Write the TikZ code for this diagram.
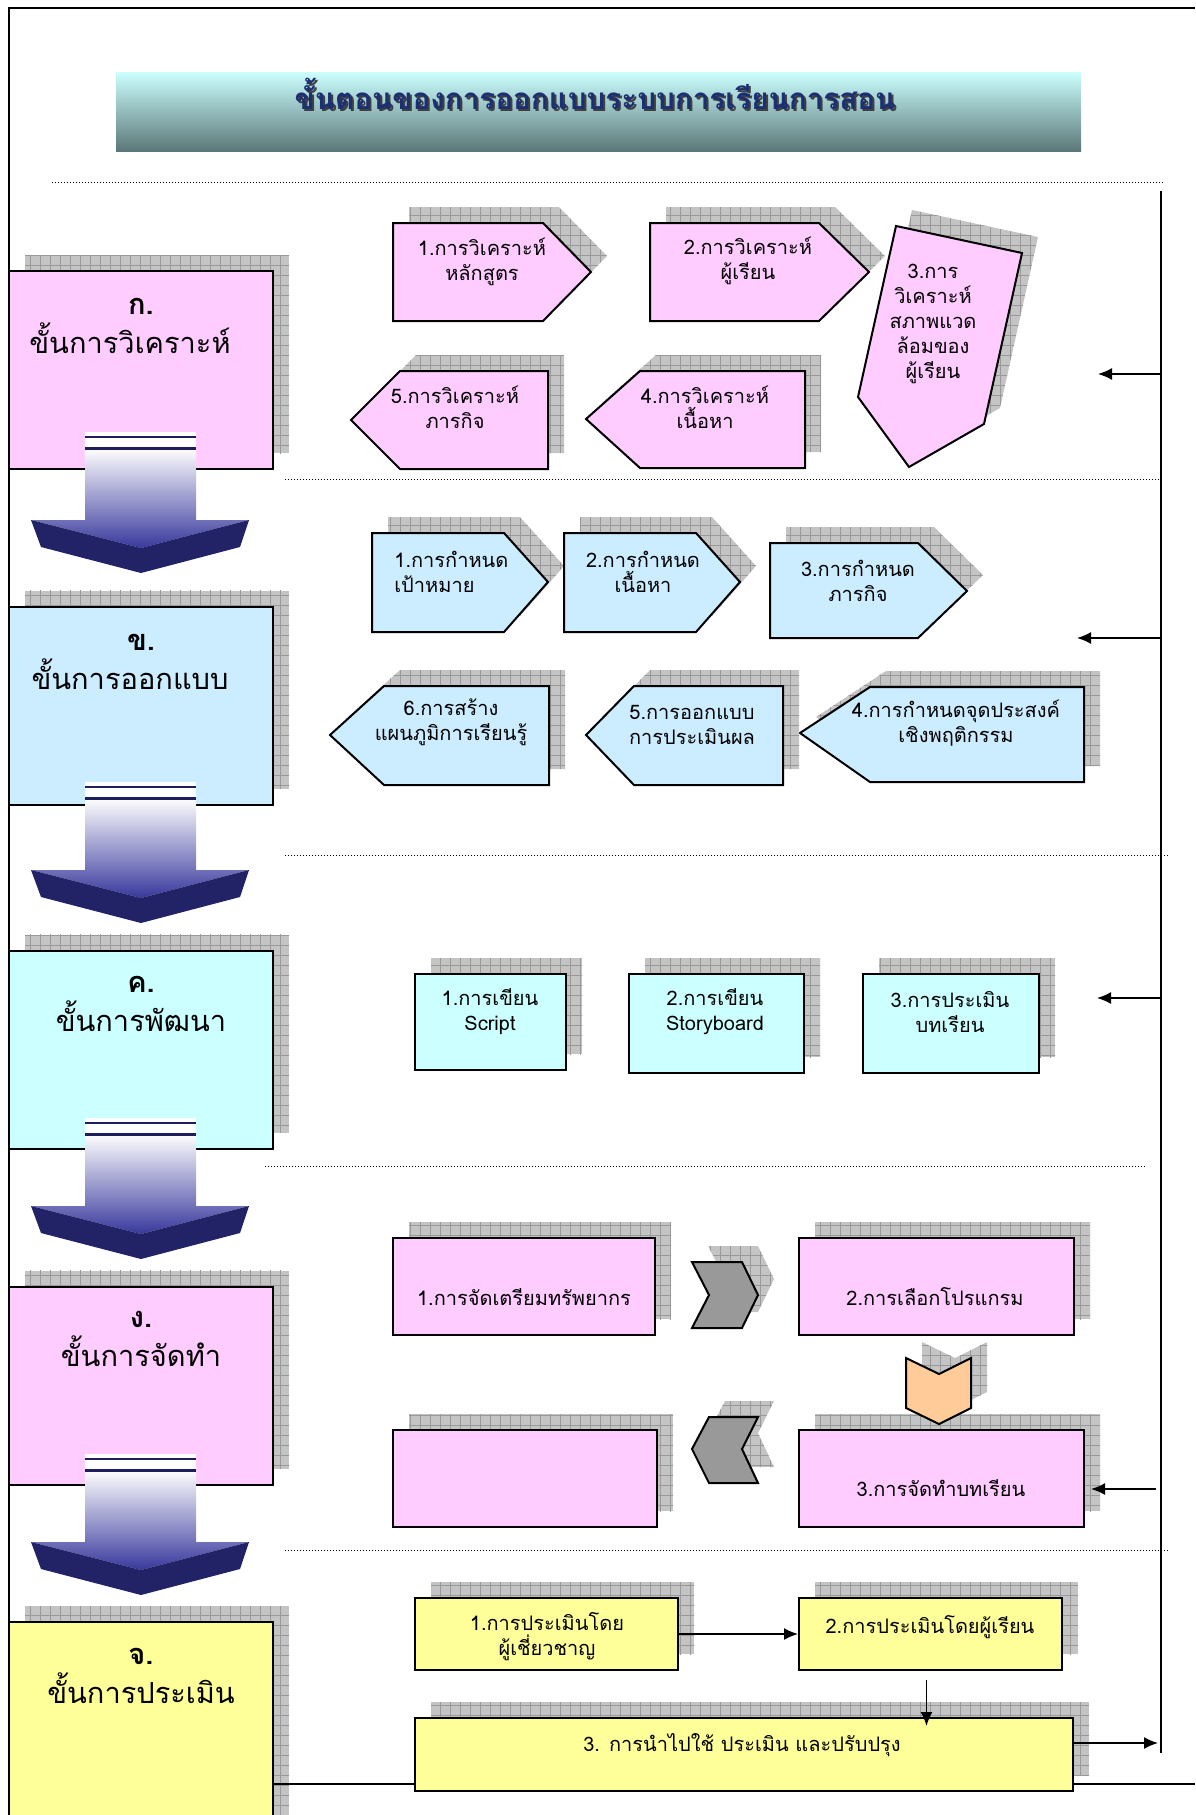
\documentclass[tikz,border=0pt]{standalone}
\usepackage{fontspec}
\setmainfont[Script=Thai]{Loma}
\usepackage{tikz}
\usetikzlibrary{arrows.meta, patterns.meta}

\definecolor{pinkfill}{HTML}{FFCCFF}
\definecolor{bluefill}{HTML}{CCECFF}
\definecolor{cyanfill}{HTML}{CCFFFF}
\definecolor{yellowfill}{HTML}{FFFF99}
\definecolor{peachfill}{HTML}{FFCC99}
\definecolor{chevgray}{HTML}{999999}
\definecolor{shadowgray}{HTML}{C4C4C4}
\definecolor{gridgray}{HTML}{999999}
\definecolor{bannerdark}{HTML}{5B7777}
\definecolor{titleblue}{HTML}{1C2F72}
\definecolor{shaftblue}{HTML}{38389C}
\definecolor{headnavy}{HTML}{222266}
\definecolor{stripenavy}{HTML}{1E1E5C}

\tikzset{
  shadowed/.style={
    preaction={fill=shadowgray, transform canvas={xshift=8pt, yshift=8pt}},
    preaction={pattern color=gridgray, pattern={Hatch[angle=0, distance=5pt, line width=0.35pt]},
      transform canvas={xshift=8pt, yshift=8pt}}},
  stepshape/.style={draw, line width=1pt, shadowed},
  stepbox/.style={stepshape, rectangle, inner sep=0pt},
  stagebox/.style={stepbox, minimum width=132pt, minimum height=99pt},
  txt/.style={align=center, inner sep=0pt, font=\fontsize{10}{12.5}\selectfont},
  stagetxt/.style={align=center, inner sep=0pt, font=\fontsize{14.5}{19.5}\selectfont},
  titletxt/.style={inner sep=0pt, font=\fontsize{14.8}{18}\selectfont\bfseries},
  dotline/.style={densely dotted, line width=0.5pt},
  frameline/.style={line width=1pt},
  linkarrow/.style={line width=0.8pt, -{Latex[length=7pt, width=6pt]}},
  downarrow/.pic={
    \fill[white] (-56,-88) rectangle (55,-72);
    \shade[top color=white, bottom color=shaftblue]
      (-56,-72) -- (55,-72) -- (55,0) -- (108,0) -- (0,28) -- (-110,0) -- (-56,0) -- cycle;
    \fill[headnavy] (-110,0) -- (0,28) -- (0,53) -- (-100,27) -- cycle;
    \fill[headnavy] (108,0) -- (0,28) -- (0,53) -- (99,27) -- cycle;
    \draw[stripenavy, line width=1pt] (-56,-83) -- (55,-83);
    \draw[stripenavy, line width=1.5pt] (-56,-72) -- (55,-72);
  }
}

\begin{document}
\begin{tikzpicture}[x=0.5pt, y=-0.5pt]
  \useasboundingbox (0,0) rectangle (1195,1815);

  % Frame
  \draw[frameline] (1195,8) -- (9,8) -- (9,1785);
  \draw[frameline] (1161,191) -- (1161,1753);

  % Title banner
  \shade[top color=cyanfill, bottom color=bannerdark] (116,72) rectangle (1081,151);
  \node[titletxt, text=black!75] (titleshadow) at (597,96) {ขั้นตอนของการออกแบบระบบการเรียนการสอน};
  \node[titletxt, text=titleblue] (title) at (595,94) {ขั้นตอนของการออกแบบระบบการเรียนการสอน};

  % Separators
  \draw[dotline] (52,182) -- (1164,182);
  \draw[dotline] (285,479) -- (1161,479);
  \draw[dotline] (285,855) -- (1168,855);
  \draw[dotline] (265,1166) -- (1147,1166);
  \draw[dotline] (285,1550) -- (1168,1550);

  % Stage boxes
  \node[stagebox, fill=pinkfill] (stageA) at (141,370) {};
  \node[stagebox, fill=bluefill] (stageB) at (141,705.5) {};
  \node[stagebox, fill=cyanfill] (stageC) at (141,1049.5) {};
  \node[stagebox, fill=pinkfill] (stageD) at (141,1385.5) {};
  \node[stagebox, fill=yellowfill, minimum height=120pt] (stageE) at (141,1742) {};

  \node[stagetxt] (stageA-t) at (141,326) {\textbf{ก.}\\ขั้นการวิเคราะห์\hspace*{11pt}};
  \node[stagetxt] (stageB-t) at (141,662) {\textbf{ข.}\\ขั้นการออกแบบ\hspace*{11pt}};
  \node[stagetxt] (stageC-t) at (141,1004) {\textbf{ค.}\\ขั้นการพัฒนา};
  \node[stagetxt] (stageD-t) at (141,1339) {\textbf{ง.}\\ขั้นการจัดทำ};
  \node[stagetxt] (stageE-t) at (141,1676) {\textbf{จ.}\\ขั้นการประเมิน};

  % Arrows between stages
  \pic at (141,520) {downarrow};
  \pic at (141,870) {downarrow};
  \pic at (141,1206) {downarrow};
  \pic at (141,1542) {downarrow};

  % Analysis steps
  \draw[stepshape, fill=pinkfill] (393,223) -- (543,223) -- (591,272) -- (543,321) -- (393,321) -- cycle;
  \node[txt] (anaA) at (482,262) {1.การวิเคราะห์\\หลักสูตร};
  \draw[stepshape, fill=pinkfill] (650,223) -- (819,223) -- (869,272) -- (819,321) -- (650,321) -- cycle;
  \node[txt] (anaB) at (748,261) {2.การวิเคราะห์\\ผู้เรียน};
  \draw[stepshape, fill=pinkfill] (896,226) -- (1022,253) -- (984,424) -- (909,467) -- (858,397) -- cycle;
  \node[txt] (anaC) at (933,324) {3.การ\\วิเคราะห์\\สภาพแวด\\ล้อมของ\\ผู้เรียน};
  \draw[stepshape, fill=pinkfill] (586,419) -- (640,371) -- (805,371) -- (805,468) -- (640,468) -- cycle;
  \node[txt] (anaD) at (705,407) {4.การวิเคราะห์\\เนื้อหา};
  \draw[stepshape, fill=pinkfill] (351,420) -- (400,371) -- (548,371) -- (548,469) -- (400,469) -- cycle;
  \node[txt] (anaE) at (455,407) {5.การวิเคราะห์\\ภารกิจ};

  % Design steps
  \draw[stepshape, fill=bluefill] (372,533) -- (504,533) -- (548,582) -- (504,632) -- (372,632) -- cycle;
  \node[txt, align=left, anchor=west] (desA) at (394,572) {1.การกำหนด\\เป้าหมาย};
  \draw[stepshape, fill=bluefill] (564,533) -- (696,533) -- (740,582) -- (696,632) -- (564,632) -- cycle;
  \node[txt] (desB) at (643,572) {2.การกำหนด\\เนื้อหา};
  \draw[stepshape, fill=bluefill] (770,543) -- (918,543) -- (967,591) -- (918,638) -- (770,638) -- cycle;
  \node[txt] (desC) at (858,581) {3.การกำหนด\\ภารกิจ};
  \draw[stepshape, fill=bluefill] (800,733) -- (870,687) -- (1084,687) -- (1084,782) -- (870,782) -- cycle;
  \node[txt] (desD) at (956,723) {4.การกำหนดจุดประสงค์\\เชิงพฤติกรรม};
  \draw[stepshape, fill=bluefill] (586,735) -- (634,686) -- (783,686) -- (783,785) -- (634,785) -- cycle;
  \node[txt] (desE) at (692,725) {5.การออกแบบ\\การประเมินผล};
  \draw[stepshape, fill=bluefill] (330,735) -- (384,686) -- (549,686) -- (549,785) -- (384,785) -- cycle;
  \node[txt] (desF) at (451,722) {6.การสร้าง\\แผนภูมิการเรียนรู้};

  % Development steps
  \node[stepbox, fill=cyanfill, minimum width=75.5pt, minimum height=48pt] (devA) at (490.5,1022) {};
  \node[txt] (devA-t) at (490,1012) {1.การเขียน\\Script};
  \node[stepbox, fill=cyanfill, minimum width=87.5pt, minimum height=49.5pt] (devB) at (716.5,1023.5) {};
  \node[txt] (devB-t) at (715,1012) {2.การเขียน\\Storyboard};
  \node[stepbox, fill=cyanfill, minimum width=88pt, minimum height=49.5pt] (devC) at (951,1023.5) {};
  \node[txt] (devC-t) at (950,1012) {3.การประเมิน\\บทเรียน};

  % Production steps
  \node[stepbox, fill=pinkfill, minimum width=131pt, minimum height=48.5pt] (proA) at (524,1286.5) {};
  \node[txt] (proA-t) at (524,1297) {1.การจัดเตรียมทรัพยากร};
  \draw[stepshape, fill=chevgray] (692,1262) -- (742,1262) -- (758,1295) -- (742,1328) -- (692,1328) -- (709,1295) -- cycle;
  \node[stepbox, fill=pinkfill, minimum width=137.5pt, minimum height=48.5pt] (proB) at (936.5,1286.5) {};
  \node[txt] (proB-t) at (935,1297) {2.การเลือกโปรแกรม};
  \node[stepbox, fill=pinkfill, minimum width=142.5pt, minimum height=48.5pt] (proC) at (941.5,1478.5) {};
  \node[txt] (proC-t) at (941,1488) {3.การจัดทำบทเรียน};
  \draw[stepshape, fill=peachfill] (906,1358) -- (939,1374) -- (971,1358) -- (971,1408) -- (939,1424) -- (906,1408) -- cycle;
  \draw[stepshape, fill=chevgray] (758,1417) -- (709,1417) -- (692,1449) -- (709,1483) -- (758,1483) -- (742,1449) -- cycle;
  \node[stepbox, fill=pinkfill, minimum width=132pt, minimum height=48.5pt] (proD) at (525,1478.5) {};

  % Evaluation steps
  \draw[frameline] (273,1784) -- (1195,1784);
  \node[stepbox, fill=yellowfill, minimum width=131.5pt, minimum height=36pt] (evaA) at (546.5,1634) {};
  \node[txt] (evaA-t) at (547,1637) {1.การประเมินโดย\\ผู้เชี่ยวชาญ};
  \node[stepbox, fill=yellowfill, minimum width=131.5pt, minimum height=36pt] (evaB) at (930.5,1634) {};
  \node[txt] (evaB-t) at (930,1627) {2.การประเมินโดยผู้เรียน};
  \node[stepbox, fill=yellowfill, minimum width=329pt, minimum height=36.5pt] (evaC) at (744,1754.5) {};
  \node[txt] (evaC-t) at (742,1745) {3. การนำไปใช้ ประเมิน และปรับปรุง};

  \draw[linkarrow] (evaA) -- (evaB);
  \draw[linkarrow] ([xshift=-2pt, yshift=-4.5pt]evaB.south) -- ([xshift=-2pt, yshift=-4.5pt]evaB.south |- evaC.north);

  % Feedback arrows from the right line
  \coordinate (backA) at (1161,374);
  \coordinate (backA-end) at (1098,374);
  \coordinate (backB) at (1161,638);
  \coordinate (backB-end) at (1077,638);
  \coordinate (backC) at (1161,998);
  \coordinate (backC-end) at (1097,998);
  \coordinate (backD) at (1156,1489);
  \coordinate (outE) at (1158,1743);
  \draw[linkarrow] (backA) -- (backA-end);
  \draw[linkarrow] (backB) -- (backB-end);
  \draw[linkarrow] (backC) -- (backC-end);
  \draw[linkarrow] (backD) -- ([xshift=3pt]backD -| proC.east);
  \draw[linkarrow] (evaC.east |- outE) -- (outE);
\end{tikzpicture}
\end{document}
